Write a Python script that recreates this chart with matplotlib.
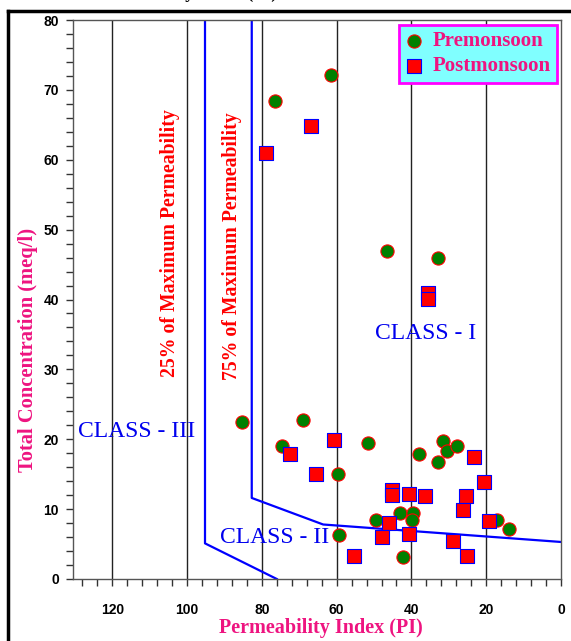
import matplotlib
matplotlib.use("Agg")
import matplotlib.pyplot as plt
from matplotlib.lines import Line2D

# Premonsoon samples: permeability index (%) and total concentration (meq/l)
pre_pi = [61.6, 76.5, 46.5, 32.9, 85.2, 68.9, 74.5, 51.7, 59.7, 49.5, 59.5,
          43.0, 39.6, 39.8, 42.2, 37.9, 31.6, 30.6, 27.7, 33.0, 17.2, 13.8]
pre_tc = [72.1, 68.4, 46.9, 46.0, 22.4, 22.7, 19.1, 19.5, 15.0, 8.4, 6.3,
          9.5, 9.5, 8.5, 3.1, 17.9, 19.8, 18.3, 19.0, 16.8, 8.5, 7.2]

# Postmonsoon samples
post_pi = [66.8, 79.0, 35.6, 35.6, 60.6, 72.6, 65.5, 45.3, 45.3, 40.6, 36.5,
           23.3, 20.6, 25.4, 26.3, 19.2, 45.9, 47.9, 40.6, 28.8, 25.1, 55.3]
post_tc = [64.9, 60.9, 40.9, 40.1, 19.9, 17.9, 15.0, 12.8, 12.0, 12.1, 11.9,
           17.5, 13.9, 11.9, 9.9, 8.3, 8.0, 6.0, 6.4, 5.5, 3.3, 3.3]

# class boundary lines (Doneen)
b25_pi = [95.2, 95.2, 76.0]
b25_tc = [80.0, 5.1, 0.0]
b75_pi = [82.7, 82.7, 63.6, 0.0]
b75_tc = [80.0, 11.6, 7.8, 5.3]

grid_pi = [120, 100, 80, 60, 40, 20]

pink = '#EE1480'
serif = ['Liberation Serif', 'DejaVu Serif']
sans = ['Liberation Sans', 'DejaVu Sans']

W, H = 571, 641
fig = plt.figure(figsize=(W / 100, H / 100), dpi=100)
ax = fig.add_axes([73 / W, 1 - 579 / H, (561 - 73) / W, (579 - 20) / H])

for g in grid_pi:
    ax.axvline(g, color='#222222', lw=1, zorder=1)

ax.plot(b25_pi, b25_tc, color='#0000FF', lw=1.6, zorder=2)
ax.plot(b75_pi, b75_tc, color='#0000FF', lw=1.6, zorder=2)

ax.scatter(pre_pi, pre_tc, s=90, marker='o', facecolor='#008000',
           edgecolor='red', linewidth=0.8, zorder=3, label='Premonsoon')
ax.scatter(post_pi, post_tc, s=90, marker='s', facecolor='red',
           edgecolor='#0000FF', linewidth=0.8, zorder=4, label='Postmonsoon')

ax.set_xlim(130.5, 0)
ax.set_ylim(0, 80)
ax.set_xticks(range(0, 121, 20))
ax.set_xticks(range(0, 131, 4), minor=True)
ax.set_yticks(range(0, 81, 10))
ax.set_yticks(range(0, 81, 2), minor=True)
ax.tick_params(which='both', direction='out', length=5, width=1, color='#333333')
ax.tick_params(axis='x', which='major', pad=12)
ax.tick_params(axis='y', which='major', pad=5)
for lab in ax.get_xticklabels() + ax.get_yticklabels():
    lab.set_fontfamily(sans)
    lab.set_fontweight('bold')
    lab.set_fontsize(10)
for sp in ax.spines.values():
    sp.set_color('#555555')
    sp.set_linewidth(1)

ax.set_xlabel('Permeability Index (PI)', color=pink, family=serif,
              fontweight='bold', fontsize=14.5)
ax.xaxis.label.set_va('center')
ax.xaxis.set_label_coords(0.508, -0.087)
ax.set_ylabel('Total Concentration (meq/l)', color=pink, family=serif,
              fontweight='bold', fontsize=14.8)
ax.yaxis.label.set_va('center')
ax.yaxis.set_label_coords(-0.092, 0.41)

ax.text(104.5, 48.1, '25% of Maximum Permeability', rotation=90, color='red',
        family=serif, fontweight='bold', fontsize=14.2, ha='center', va='center')
ax.text(88.0, 47.6, '75% of Maximum Permeability', rotation=90, color='red',
        family=serif, fontweight='bold', fontsize=14.2, ha='center', va='center')

ax.text(36.1, 35.1, 'CLASS - I', color='#0000EE', family=serif, fontsize=17,
        ha='center', va='center')
ax.text(113.4, 21.1, 'CLASS - III', color='#0000EE', family=serif, fontsize=17,
        ha='center', va='center')
ax.text(76.7, 5.9, 'CLASS - II', color='#0000EE', family=serif, fontsize=17,
        ha='center', va='center')

leg = ax.legend(loc='upper right', bbox_to_anchor=(0.992, 0.991), borderaxespad=0,
                prop={'family': serif, 'weight': 'bold', 'size': 15},
                labelcolor=pink, facecolor='#80FFFF', edgecolor='#FF00FF',
                framealpha=1, fancybox=False, handlelength=0.8, handletextpad=0.5,
                labelspacing=0.25, borderpad=0.3)
leg.get_frame().set_linewidth(2)

# outer frame and clipped title of the original screenshot
fig.add_artist(Line2D([8 / W, 8 / W], [0, 1 - 11 / H], transform=fig.transFigure,
                      color='black', lw=2.5))
fig.add_artist(Line2D([8 / W, 1], [1 - 11 / H, 1 - 11 / H], transform=fig.transFigure,
                      color='black', lw=2.5))
fig.text(277 / W, 1 + 2 / H, 'Permeability Index (PI)', ha='right', va='baseline',
         family=serif, fontweight='bold', fontsize=13)

fig.savefig('out.png', dpi=100)
